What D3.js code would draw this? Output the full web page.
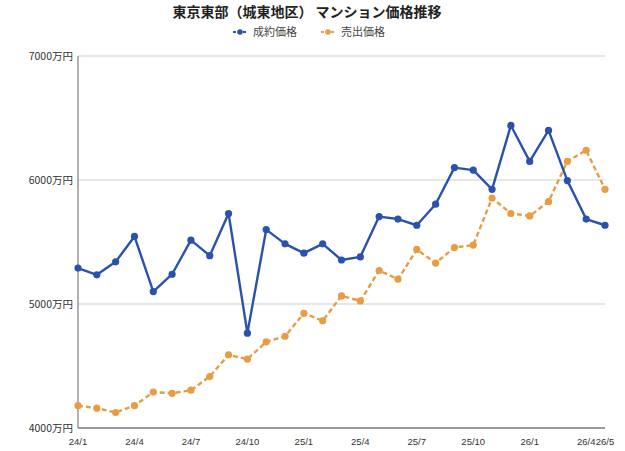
<!DOCTYPE html>
<html>
<head>
<meta charset="utf-8">
<script src="https://cdn.jsdelivr.net/npm/d3@7"></script>
<style>
  body { margin: 0; background: #fff; }
  text { font-family: "Noto Sans CJK JP", "Noto Sans", sans-serif; }
</style>
</head>
<body>
<div id="chart"></div>
<script>
// months 24/1 .. 26/5
const months = ["24/1","24/2","24/3","24/4","24/5","24/6","24/7","24/8","24/9","24/10","24/11","24/12",
    "25/1","25/2","25/3","25/4","25/5","25/6","25/7","25/8","25/9","25/10","25/11","25/12",
    "26/1","26/2","26/3","26/4","26/5"];

// 成約価格 (万円)
const contractPrice = [5290, 5235, 5340, 5545, 5100, 5240, 5515, 5390, 5730, 4765, 5600, 5485,
    5410, 5485, 5355, 5380, 5705, 5685, 5635, 5805, 6100, 6080, 5925, 6440,
    6150, 6400, 5995, 5685, 5635];

// 売出価格 (万円)
const listPrice = [4180, 4160, 4125, 4180, 4290, 4280, 4305, 4415, 4590, 4555, 4695, 4740,
    4925, 4865, 5065, 5025, 5270, 5200, 5440, 5330, 5455, 5475, 5855, 5730,
    5710, 5825, 6150, 6240, 5925];

const tickMonths = ["24/1","24/4","24/7","24/10","25/1","25/4","25/7","25/10","26/1","26/4","26/5"];
const yTicks = [4000, 5000, 6000, 7000];

const width = 625;
const height = 451;
const margin = {top: 56, right: 20, bottom: 23, left: 78};

const blue = "#2a52ad";
const orange = "#e89c45";

const svg = d3.select("#chart").append("svg")
    .attr("width", width)
    .attr("height", height);

const x = d3.scalePoint()
    .domain(months)
    .range([margin.left, width - margin.right]);

const y = d3.scaleLinear()
    .domain([4000, 7000])
    .range([height - margin.bottom, margin.top]);

// title
svg.append("text")
    .attr("x", 307)
    .attr("y", 17)
    .attr("text-anchor", "middle")
    .attr("font-size", 14)
    .attr("font-weight", "bold")
    .attr("fill", "#222")
    .text("東京東部（城東地区） マンション価格推移");

// gridlines
svg.append("g")
    .selectAll("line")
    .data(yTicks.slice(1))
    .join("line")
        .attr("x1", margin.left)
        .attr("x2", width - margin.right)
        .attr("y1", d => y(d))
        .attr("y2", d => y(d))
        .attr("stroke", "#d0d0d0")
        .attr("stroke-width", 1.2);

// y labels
svg.append("g")
    .selectAll("text")
    .data(yTicks)
    .join("text")
        .attr("x", margin.left - 5)
        .attr("y", d => y(d) + 3.5)
        .attr("text-anchor", "end")
        .attr("font-size", 10.5)
        .attr("fill", "#333")
        .text(d => d + "万円");

// axis lines
svg.append("line")
    .attr("x1", margin.left).attr("x2", margin.left)
    .attr("y1", y(7000)).attr("y2", y(4000))
    .attr("stroke", "#888").attr("stroke-width", 1.3);
svg.append("line")
    .attr("x1", margin.left).attr("x2", width - margin.right)
    .attr("y1", y(4000)).attr("y2", y(4000))
    .attr("stroke", "#777").attr("stroke-width", 1.5);

// x labels (narrower font so 26/4 and 26/5 just touch)
svg.append("g")
    .selectAll("text")
    .data(tickMonths)
    .join("text")
        .attr("x", d => x(d))
        .attr("y", height - 6)
        .attr("text-anchor", "middle")
        .style("font-family", "'Liberation Sans', Arial, sans-serif")
        .attr("font-size", 9.5)
        .attr("fill", "#333")
        .text(d => d);

const line = d3.line()
    .x((d, i) => x(months[i]))
    .y(d => y(d));

function drawSeries(values, color, dash) {
    const g = svg.append("g");
    g.append("path")
        .datum(values)
        .attr("d", line)
        .attr("fill", "none")
        .attr("stroke", color)
        .attr("stroke-width", 2.4)
        .attr("stroke-dasharray", dash)
        .attr("stroke-linejoin", "round");
    g.selectAll("circle")
        .data(values)
        .join("circle")
            .attr("cx", (d, i) => x(months[i]))
            .attr("cy", d => y(d))
            .attr("r", 3.6)
            .attr("fill", color);
}

drawSeries(listPrice, orange, "5,3");
drawSeries(contractPrice, blue, null);

// legend
const legend = [
    {label: "成約価格", color: blue, x: 233},
    {label: "売出価格", color: orange, x: 321}
];
const lg = svg.append("g");
legend.forEach(d => {
    lg.append("line")
        .attr("x1", d.x).attr("x2", d.x + 14)
        .attr("y1", 32).attr("y2", 32)
        .attr("stroke", d.color).attr("stroke-width", 2)
        .attr("stroke-dasharray", "3,2");
    lg.append("circle")
        .attr("cx", d.x + 7).attr("cy", 32).attr("r", 2.8)
        .attr("fill", d.color);
    lg.append("text")
        .attr("x", d.x + 20)
        .attr("y", 36)
        .attr("font-size", 11)
        .attr("fill", "#444")
        .text(d.label);
});
</script>
</body>
</html>
